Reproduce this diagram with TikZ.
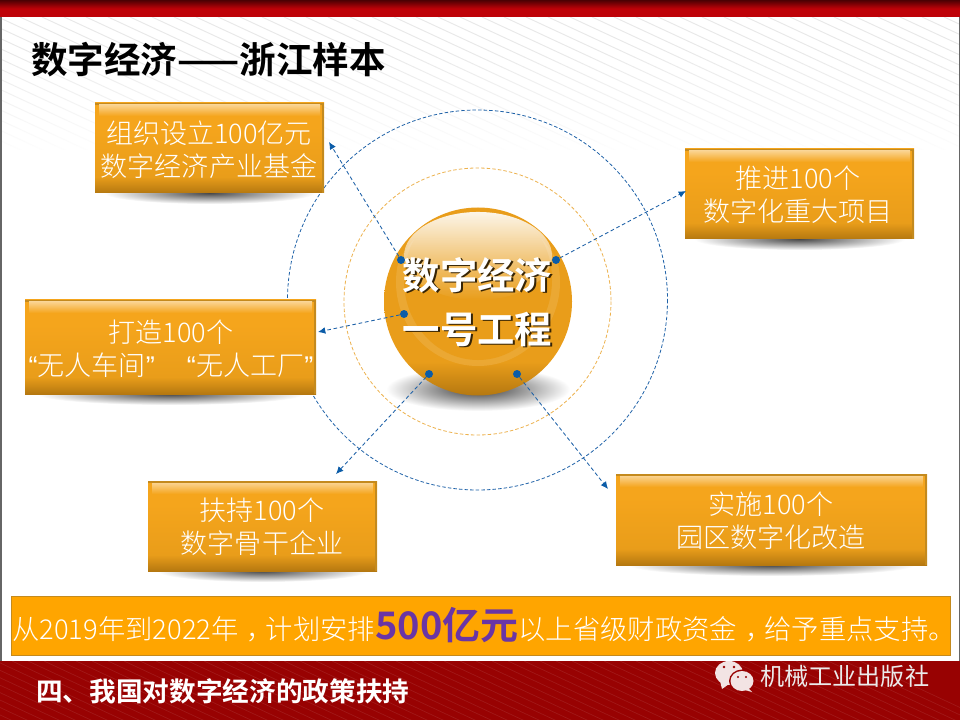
\documentclass[tikz,border=0pt]{standalone}
\usepackage{fontspec}
\setmainfont{Noto Sans CJK SC}
\newfontfamily\cjkb{Noto Sans CJK SC Bold}
\newfontfamily\cjkl{Noto Sans CJK SC Light}
\newfontfamily\latq{Liberation Sans}
\usetikzlibrary{arrows.meta,fadings,shadings}
\definecolor{barred}{HTML}{980202}
\definecolor{topred}{HTML}{BE0208}
\definecolor{orA}{HTML}{F5A51C}
\definecolor{orB}{HTML}{E99D1A}
\definecolor{orC}{HTML}{B57810}
\definecolor{orEdge}{HTML}{C48A1E}
\definecolor{lnblue}{HTML}{1F62A8}
\definecolor{dotblue}{HTML}{0B5CA8}
\definecolor{lnorange}{HTML}{EDB24E}
\definecolor{planorange}{HTML}{FFA500}
\definecolor{purp}{HTML}{6A35A5}
\definecolor{wechat}{HTML}{F3E4E4}
\pgfdeclareverticalshading{boxshade}{100bp}{color(0bp)=(orC); color(25bp)=(orC); color(34bp)=(orB); color(62bp)=(orA); color(100bp)=(orA)}
\pgfdeclareverticalshading{ballshade}{100bp}{color(0bp)=(orC); color(25bp)=(orC); color(34bp)=(orB); color(100bp)=(orB)}
\tikzset{
  boxtext/.style={align=center,text=white,font=\fontsize{20.3}{24.8}\selectfont\cjkl,inner sep=0pt},
  ring/.style={dash pattern=on 2.6pt off 1.6pt,line width=0.6pt},
  link/.style={draw=lnblue,line width=0.65pt,dash pattern=on 2.8pt off 2pt,-{Latex[length=5.5pt,width=5pt,color=dotblue]}},
  dot/.style={circle,fill=dotblue,minimum size=6pt,inner sep=0pt},
  ballfont/.style={font=\fontsize{28}{32}\selectfont\cjkb,inner sep=0pt},
}
\newcommand{\goldbox}[4]{%
  \shade[inner color=black!72,outer color=white] ({(#1+#3)/2},{#4}) ellipse [x radius={(#3-#1)*0.46},y radius=11];
  \shade[shading=boxshade] (#1,#2) rectangle (#3,#4);
  \fill[orEdge] (#1,#2) rectangle (#3,#2+2);
  \shade[top color=white!50!orA,bottom color=orA] (#1+4,#2+2) rectangle (#3-4,#2+13);
  \fill[orEdge] (#3-2,#2) rectangle (#3,#4);
}
\begin{document}
\begin{tikzpicture}[x=0.75pt,y=-0.75pt]
\useasboundingbox (0,0) rectangle (960,720);
\fill[white] (0,0) rectangle (960,720);
% faint background stripes
\begin{scope}
\clip (0,17) rectangle (960,150);
\foreach \i in {-30,...,60}{
  \draw[black!9,line width=0.7pt] ({\i*22-200},17) -- ++(500,232);
}
\end{scope}
\fill[white,path fading=north] (0,50) rectangle (960,155);
% page edges
\fill[black!60] (0,17) rectangle (1.5,661);
\fill[black!60] (958.5,17) rectangle (960,661);
% bands
\shade[top color=black!60!topred,bottom color=topred,middle color=topred] (0,0) rectangle (960,17);
\fill[barred] (0,661) rectangle (960,720);
\begin{scope}
\clip (0,661) rectangle (960,720);
\foreach \i in {-30,...,60}{
  \draw[white!9!barred,line width=0.5pt] ({\i*16-100},661) -- ++(200,93);
}
\end{scope}
% rings
\draw[lnblue,ring] (477.5,300) circle [radius=190];
\draw[lnorange,ring] (477.5,301.5) circle [radius=133.5];
% boxes
\goldbox{95}{103}{324}{193}
\goldbox{685}{149}{914}{239}
\goldbox{25}{300}{316}{394}
\goldbox{148}{481}{377}{571}
\goldbox{616}{474}{927}{565}
\node[boxtext] (fund) at (209,150) {组织设立100亿元\\数字经济产业基金};
\node[boxtext] (proj) at (798,195) {推进100个\\数字化重大项目};
\node[boxtext] (fact) at (171,349) {打造100个\\{\latq “}无人车间{\latq ”}\hspace{24pt}{\latq “}无人工厂{\latq ”}};
\node[boxtext] (firm) at (262,527) {扶持100个\\数字骨干企业};
\node[boxtext] (park) at (771,521) {实施100个\\园区数字化改造};
% ball
\shade[inner color=black!78,outer color=white] (478,389) ellipse [x radius=92,y radius=22];
\shade[shading=ballshade] (478,301.5) circle [radius=94];
\begin{scope}
\clip (478,301.5) circle [radius=89];
\fill[white!16!orB,opacity=0.7] (478,282) ellipse [x radius=82,y radius=84];
\fill[orB] (478,280) ellipse [x radius=74,y radius=80];
\end{scope}
\fill[white,path fading=south,opacity=0.9] (478,256) ellipse [x radius=74,y radius=44];
% center text
\node[ballfont,text=black!70!orC] at (479.5,276.5) {数字经济};
\node[ballfont,text=black!70!orC] at (479.5,330.5) {一号工程};
\node[ballfont,text=white] (title1) at (477.5,275) {数字经济};
\node[ballfont,text=white] (title2) at (477.5,329) {一号工程};
% connectors
\node[dot] (d1) at (401,260) {};
\node[dot] (d2) at (556,260) {};
\node[dot] (d3) at (404,314) {};
\node[dot] (d4) at (429,374) {};
\node[dot] (d5) at (517,374) {};
\coordinate (e1) at (329,142);
\coordinate (e2) at (686,191);
\coordinate (e3) at (318,332);
\coordinate (e4) at (336,474);
\coordinate (e5) at (608,489);
\draw[link] (d1) -- (e1);
\draw[link] (d2) -- (e2);
\draw[link] (d3) -- (e3);
\draw[link] (d4) -- (e4);
\draw[link] (d5) -- (e5);
% title
\node[anchor=west,inner sep=0pt,font=\fontsize{27.4}{30}\selectfont\cjkb] (head) at (31,60) {数字经济——浙江样本};
% funding bar
\node[draw=orEdge,fill=planorange,line width=0.6pt,minimum width=939*0.75pt,minimum height=59*0.75pt,inner sep=0pt,anchor=west] (plan) at (10.5,625.5) {};
\node[anchor=west,inner sep=0pt,text=white,font=\fontsize{20.5}{24}\selectfont\cjkl] (plantext) at (12,625.5)
  {从2019年到2022年\kern.3em，\kern-.3em计划安排{\fontsize{28.5}{30}\selectfont\cjkb\color{purp}500亿元}以上省级财政资金\kern.3em，\kern-.3em给予重点支持。};
% footer
\node[anchor=west,inner sep=0pt,text=white,font=\fontsize{20}{24}\selectfont\cjkb] (foot) at (36,691) {四、我国对数字经济的政策扶持};
\node[anchor=west,inner sep=0pt,text=white!92!black,font=\fontsize{18.1}{22}\selectfont] (pub) at (760,676) {机械工业出版社};
% wechat icon
\fill[wechat] (729,673) ellipse [x radius=14,y radius=12];
\fill[wechat] (720,681) -- (722,689) -- (729,684) -- cycle;
\fill[barred] (742,681) ellipse [x radius=13,y radius=11.5];
\fill[wechat] (742,681) ellipse [x radius=11.5,y radius=10];
\fill[wechat] (748,688) -- (752,692) -- (745,690) -- cycle;
\fill[barred] (724,667) circle [radius=1.3] (734,667) circle [radius=1.3];
\fill[barred] (738,677) circle [radius=1.1] (746,677) circle [radius=1.1];
\end{tikzpicture}
\end{document}
